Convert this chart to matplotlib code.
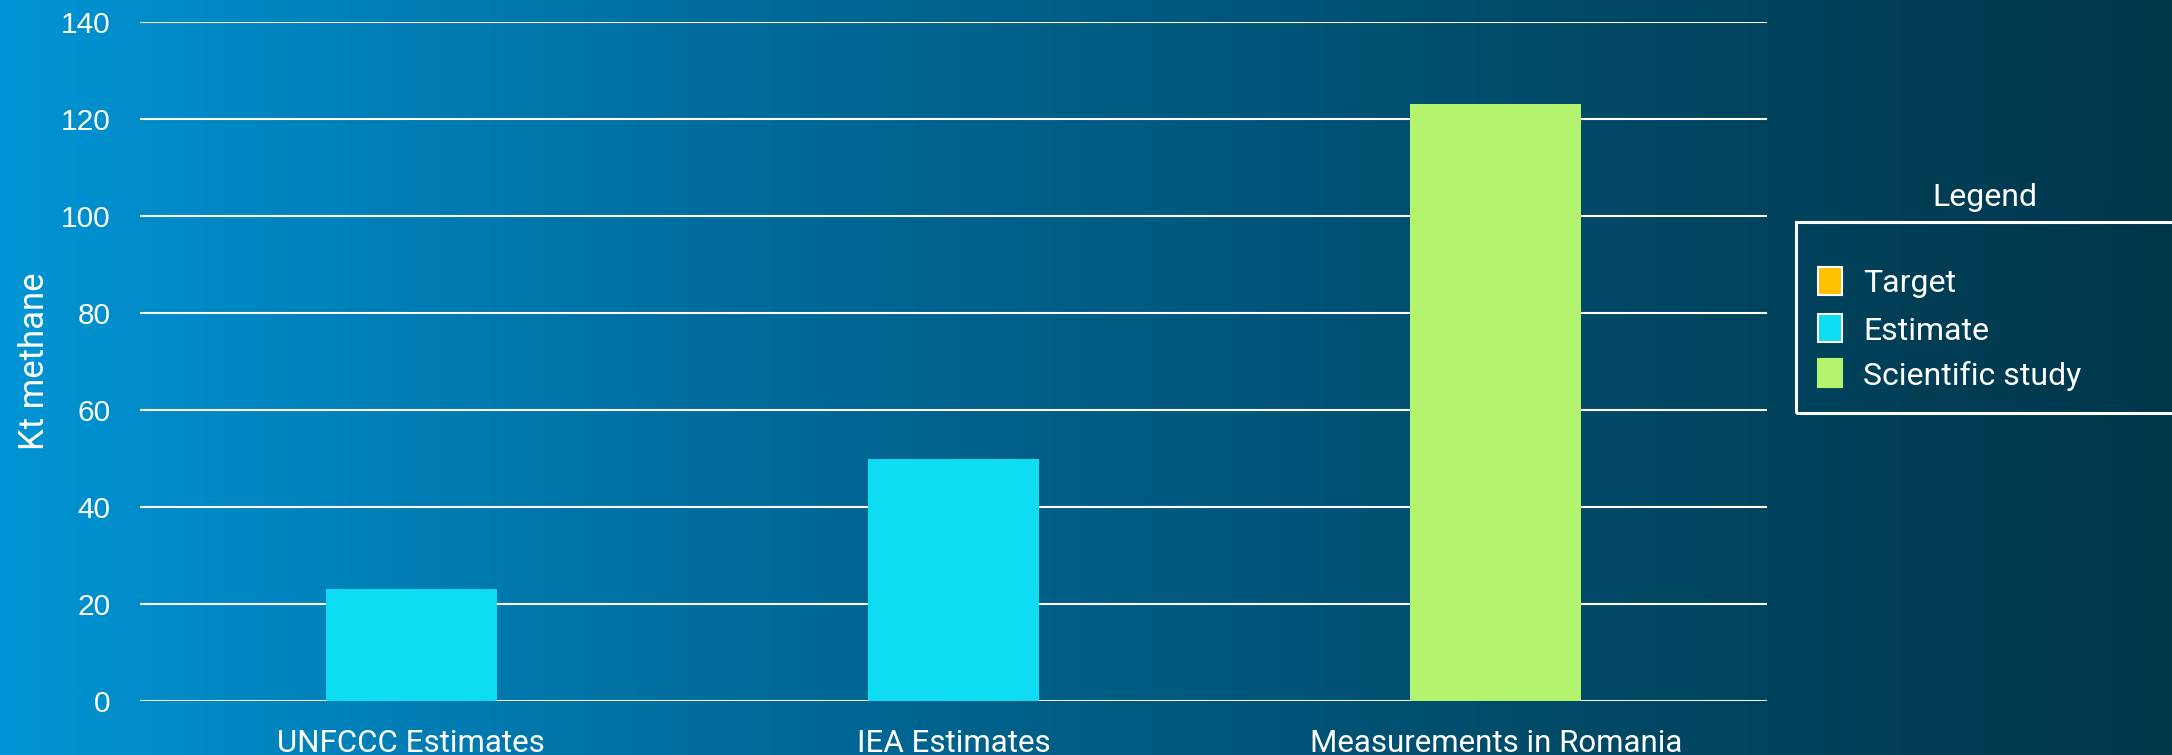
import numpy as np
import matplotlib.pyplot as plt
from matplotlib.patches import Rectangle
from matplotlib.colors import LinearSegmentedColormap

plt.rcParams['font.family'] = ['Roboto', 'DejaVu Sans']

# data
categories = ['UNFCCC Estimates', 'IEA Estimates', 'Measurements in Romania']
values = [23, 50, 123]
kinds = ['Estimate', 'Estimate', 'Scientific study']
legend_labels = ['Target', 'Estimate', 'Scientific study']
yticks = [0, 20, 40, 60, 80, 100, 120, 140]

colors = {'Target': '#FFC000', 'Estimate': '#0EDCF2', 'Scientific study': '#B3F36D'}

W, H = 2172, 755
fig = plt.figure(figsize=(W / 100, H / 100), dpi=100)

# fond en dégradé
bg = fig.add_axes([0, 0, 1, 1], zorder=-10)
cmap = LinearSegmentedColormap.from_list('bg', ['#0094D4', '#006C9C', '#004E6E', '#00364A'])
bg.imshow(np.linspace(0, 1, 256)[None, :], aspect='auto', cmap=cmap, extent=[0, 1, 0, 1])
bg.set_axis_off()

ax = fig.add_axes([140 / W, 1 - 701 / H, (1767 - 140) / W, (701 - 22) / H])
ax.patch.set_alpha(0)
x = np.arange(len(categories))
ax.bar(x, values, width=0.315, color=[colors[k] for k in kinds], zorder=3)
ax.set_xlim(-0.5, 2.5)
ax.set_ylim(0, 140)
ax.set_yticks(yticks)
ax.set_xticks(x)
ax.set_xticklabels(categories, fontsize=22.5, color='white')
ax.tick_params(axis='y', labelsize=21.5, colors='white', length=0, pad=21)
ax.tick_params(axis='x', length=0, pad=20)
for lbl in ax.get_yticklabels():
    lbl.set_family(['Liberation Sans', 'DejaVu Sans'])
ax.grid(axis='y', color='white', linewidth=1.5, zorder=1)
for s in ax.spines.values():
    s.set_visible(False)
ax.set_ylabel('Kt methane', fontsize=25, color='white')
ax.yaxis.set_label_coords(-(140 - 51) / (1767 - 140), 1 - (361 - 22) / (701 - 22))

# légende (dessinée à la main)
fig.text(1985 / W, 1 - 198 / H, 'Legend', color='white', fontsize=23, ha='center', va='center')
fig.patches.append(Rectangle((1796 / W, 1 - 413 / H), (2200 - 1796) / W, (413 - 222) / H,
                             transform=fig.transFigure, fill=False, edgecolor='white', linewidth=2.2))
ys = [281, 328, 373]
for lab, yy in zip(legend_labels, ys):
    ec = 'white' if lab != 'Scientific study' else colors[lab]
    fig.patches.append(Rectangle((1818 / W, 1 - (yy + 14) / H), 24 / W, 28 / H,
                                 transform=fig.transFigure, facecolor=colors[lab],
                                 edgecolor=ec, linewidth=1.5))
    fig.text(1863 / W, 1 - yy / H, lab, color='white', fontsize=23, ha='left', va='center_baseline')

fig.savefig('out.png', dpi=100)
